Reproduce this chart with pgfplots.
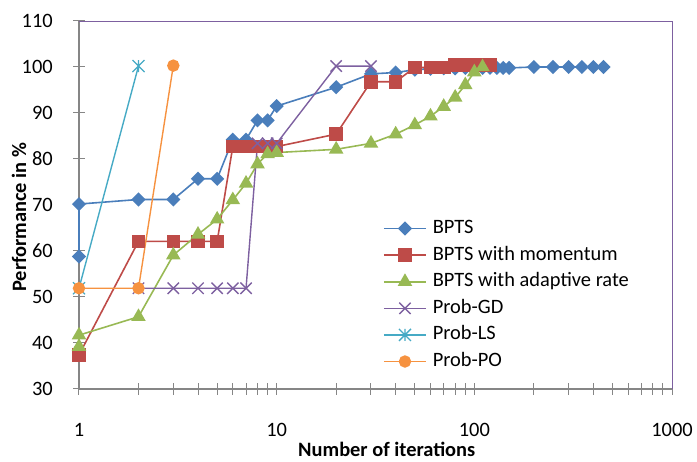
\documentclass[border=0pt]{standalone}
\usepackage{fontspec}
\setmainfont{Carlito}
\usepackage{pgfplots}
\pgfplotsset{compat=1.18}
\usetikzlibrary{calc}

\definecolor{cblue}{HTML}{4A7EBB}
\definecolor{cred}{HTML}{BE4B48}
\definecolor{cgreen}{HTML}{98B954}
\definecolor{cpurple}{HTML}{7D60A0}
\definecolor{caqua}{HTML}{46AAC5}
\definecolor{corange}{HTML}{F69240}
\definecolor{axgray}{HTML}{868686}

\pgfdeclareplotmark{xstar}{%
 \pgfpathmoveto{\pgfqpoint{-.7071\pgfplotmarksize}{-.7071\pgfplotmarksize}}%
 \pgfpathlineto{\pgfqpoint{.7071\pgfplotmarksize}{.7071\pgfplotmarksize}}%
 \pgfpathmoveto{\pgfqpoint{-.7071\pgfplotmarksize}{.7071\pgfplotmarksize}}%
 \pgfpathlineto{\pgfqpoint{.7071\pgfplotmarksize}{-.7071\pgfplotmarksize}}%
 \pgfpathmoveto{\pgfqpoint{0pt}{-.7071\pgfplotmarksize}}%
 \pgfpathlineto{\pgfqpoint{0pt}{.7071\pgfplotmarksize}}%
 \pgfusepathqstroke}

\begin{document}
\begin{tikzpicture}
\begin{axis}[
 name=ax, scale only axis, width=593bp, height=368bp,
 xmode=log, xmin=1, xmax=1000, ymin=30, ymax=110,
 axis x line=bottom, axis y line=left,
 axis line style={-, draw=axgray, line width=1.2bp},
 xtick={1,10,100,1000}, xticklabels={1,10,100,1000},
 minor xtick={2,3,4,5,6,7,8,9,20,30,40,50,60,70,80,90,200,300,400,500,600,700,800,900},
 ytick={30,40,50,60,70,80,90,100,110},
 tick align=center, major tick length=12bp, minor tick length=12bp,
 every tick/.style={draw=axgray, line width=1bp},
 tick label style={font=\fontsize{20.5}{24}\selectfont, text=black, inner sep=0pt},
 xticklabel style={anchor=center, yshift=-35bp},
 yticklabel style={anchor=east, xshift=-20bp},
 /pgf/number format/assume math mode=true,
 xlabel={\bfseries Number of iterations},
 ylabel={\bfseries Performance in \%},
 label style={font=\fontsize{20.5}{24}\selectfont},
 xlabel style={at={(axis description cs:0.519,-0.164)}, anchor=center},
 ylabel style={at={(axis description cs:-0.1012,0.467)}, anchor=center},
 clip=false,
 legend cell align=left,
 legend style={draw=none, fill=none, at={(axis description cs:0.5126,0.2554)}, anchor=west,
   font=\fontsize{20.5}{24}\selectfont, inner sep=0pt, row sep=8.6bp,
   nodes={inner sep=0pt, text height=14bp, text depth=4bp},
   /tikz/every odd column/.append style={column sep=6bp}},
 legend image code/.code={\draw[mark repeat=2,mark phase=2] plot coordinates {(0bp,0bp) (21bp,0bp) (42bp,0bp)};},
]
\draw[cpurple, line width=0.8bp] (rel axis cs:0,1) -- (rel axis cs:1,1) -- (rel axis cs:1,0);

\addplot[cblue, line width=1.6bp, mark=square*, mark size=4.2bp, mark options={solid, rotate=45, fill=cblue, draw=cblue}]
 coordinates {(1,58.8) (1,70.2) (2,71.2) (3,71.2) (4,75.7) (5,75.7) (6,84.2) (7,84.2) (8,88.4) (9,88.4) (10,91.5)
 (20,95.6) (30,98.5) (40,98.8) (50,99.4) (60,99.6) (70,99.7) (80,99.7) (90,99.8) (100,99.8) (110,99.8) (120,99.8)
 (130,99.8) (140,99.8) (150,99.8) (200,100) (250,100) (300,100) (350,100) (400,100) (450,100)};
\addlegendentry{BPTS}

\addplot[cred, line width=1.6bp, mark=square*, mark size=6bp, mark options={solid, fill=cred, draw=cred}]
 coordinates {(1,37.4) (2,62.1) (3,62.1) (4,62.1) (5,62.1) (6,82.7) (7,82.7) (8,82.7) (9,82.7) (10,82.7)
 (20,85.4) (30,96.8) (40,96.8) (50,99.9) (60,99.9) (70,99.9) (80,100.4) (90,100.4) (100,100.4) (110,100.4) (120,100.4)};
\addlegendentry{BPTS with momentum}

\addplot[cgreen, line width=1.6bp, mark=triangle*, mark size=6.8bp, mark options={solid, fill=cgreen, draw=cgreen}]
 coordinates {(1,39.2) (1,41.7) (2,45.7) (3,59.1) (4,63.6) (5,66.9) (6,71.1) (7,74.7) (8,78.9) (9,81.1) (10,81.4)
 (20,82.1) (30,83.4) (40,85.4) (50,87.4) (60,89.3) (70,91.4) (80,93.4) (90,96.1) (100,98.9) (110,100)};
\addlegendentry{BPTS with adaptive rate}

\addplot[cpurple, line width=1.4bp, mark=x, mark size=8bp, mark options={solid, line width=1.4bp}]
 coordinates {(2,51.9) (3,51.9) (4,51.9) (5,51.9) (6,51.9) (7,51.9) (8,83.4) (9,83.4) (10,83.4) (20,100.2) (30,100.2)};
\addlegendentry{Prob-GD}

\addplot[caqua, line width=1.4bp, mark=xstar, mark size=8.5bp, mark options={solid, line width=1.3bp}]
 coordinates {(1,51.9) (2,100.2)};
\addlegendentry{Prob-LS}

\addplot[corange, line width=1.4bp, mark=*, mark size=5.5bp, mark options={solid, fill=corange, draw=corange}]
 coordinates {(1,51.9) (2,51.9) (3,100.3)};
\addlegendentry{Prob-PO}
\end{axis}
\pgfresetboundingbox
\path[use as bounding box] ($(ax.south west)+(-79bp,-73bp)$) rectangle ($(ax.north east)+(25bp,21bp)$);
\end{tikzpicture}
\end{document}
